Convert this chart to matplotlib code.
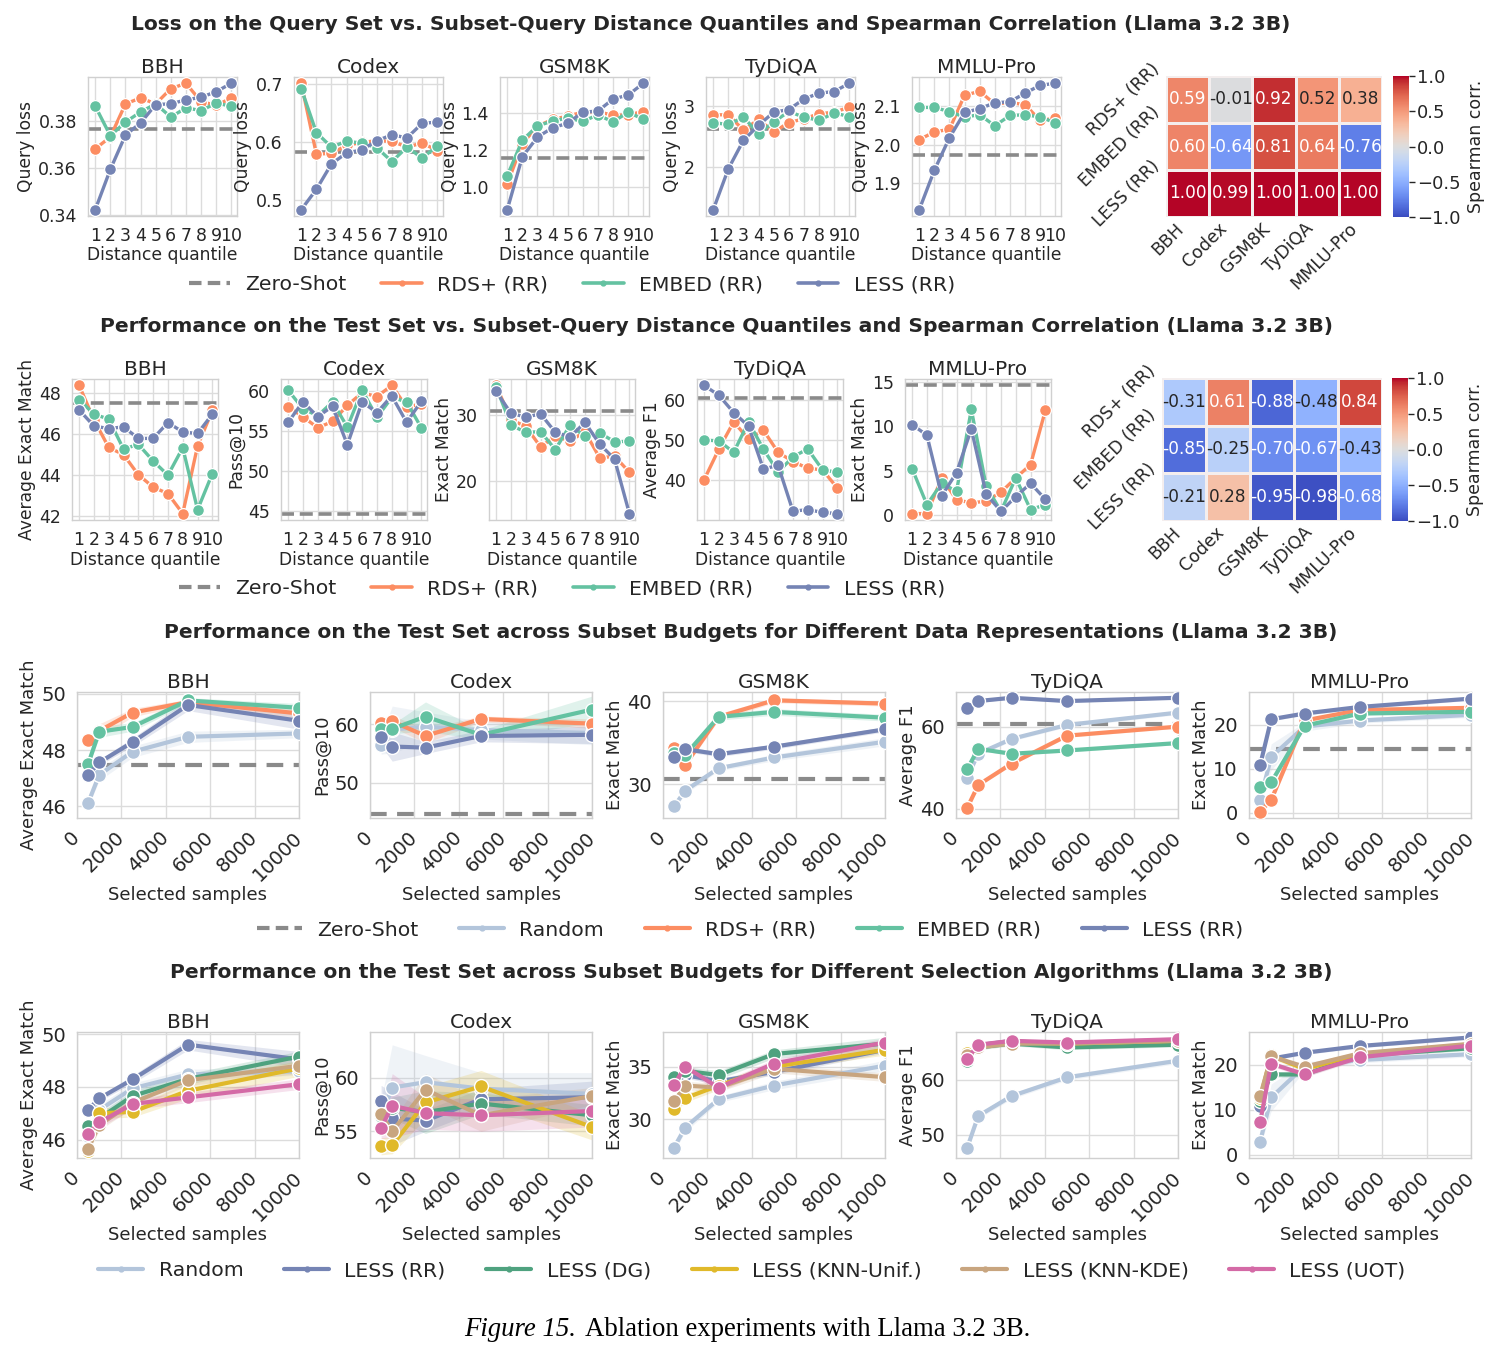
import matplotlib
matplotlib.use("Agg")
import matplotlib.pyplot as plt
import seaborn as sns
import numpy as np
from matplotlib.lines import Line2D

sns.set_theme(style="whitegrid")
plt.rcParams['font.family'] = ['DejaVu Sans']

# ---------------- data ----------------
TASKS = ['BBH', 'Codex', 'GSM8K', 'TyDiQA', 'MMLU-Pro']
QUANTILES = [1, 2, 3, 4, 5, 6, 7, 8, 9, 10]
SAMPLES = [500, 1000, 2500, 5000, 10000]
HEAT_ROWS = ['RDS+ (RR)', 'EMBED (RR)', 'LESS (RR)']

# Row 1: query loss vs distance quantile
loss_zero = [0.3766, 0.583, 1.156, 2.632, 1.974]
loss_rds = [
    [0.3682, 0.3733, 0.3875, 0.3900, 0.3875, 0.3940, 0.3963, 0.3885, 0.3868, 0.3900],
    [0.702, 0.580, 0.581, 0.595, 0.600, 0.603, 0.602, 0.592, 0.599, 0.586],
    [1.019, 1.235, 1.328, 1.365, 1.382, 1.404, 1.407, 1.386, 1.389, 1.407],
    [2.86, 2.86, 2.605, 2.784, 2.578, 2.73, 2.795, 2.876, 2.903, 2.984],
    [2.013, 2.033, 2.040, 2.129, 2.139, 2.106, 2.110, 2.104, 2.063, 2.069]]
loss_embed = [
    [0.3865, 0.3738, 0.3797, 0.3840, 0.3875, 0.3818, 0.3858, 0.3846, 0.3878, 0.3865],
    [0.693, 0.617, 0.592, 0.602, 0.599, 0.591, 0.567, 0.592, 0.573, 0.594],
    [1.063, 1.253, 1.330, 1.356, 1.372, 1.354, 1.389, 1.351, 1.404, 1.365],
    [2.73, 2.70, 2.82, 2.55, 2.74, 2.914, 2.82, 2.768, 2.89, 2.83],
    [2.097, 2.097, 2.086, 2.072, 2.078, 2.049, 2.076, 2.078, 2.072, 2.057]]
loss_less = [
    [0.3421, 0.3594, 0.3741, 0.3793, 0.3872, 0.3875, 0.3892, 0.3903, 0.3927, 0.3963],
    [0.484, 0.519, 0.563, 0.582, 0.587, 0.603, 0.613, 0.608, 0.633, 0.635],
    [0.881, 1.165, 1.270, 1.320, 1.344, 1.404, 1.409, 1.474, 1.495, 1.558],
    [1.297, 1.97, 2.44, 2.686, 2.903, 2.946, 3.119, 3.216, 3.243, 3.378],
    [1.830, 1.933, 2.018, 2.084, 2.094, 2.109, 2.112, 2.134, 2.155, 2.160]]
loss_yticks = [[0.34, 0.36, 0.38], [0.5, 0.6, 0.7], [1.0, 1.2, 1.4], [2, 3], [1.9, 2.0, 2.1]]
loss_yticklabels = [['0.34', '0.36', '0.38'], ['0.5', '0.6', '0.7'], ['1.0', '1.2', '1.4'],
                    ['2', '3'], ['1.9', '2.0', '2.1']]
loss_corr = [[0.59, -0.01, 0.92, 0.52, 0.38],
             [0.60, -0.64, 0.81, 0.64, -0.76],
             [1.00, 0.99, 1.00, 1.00, 1.00]]

# Row 2: test performance vs distance quantile
perf_zero = [47.5, 44.7, 30.6, 60.5, 14.6]
perf_rds = [
    [48.37, 46.70, 45.35, 45.00, 44.02, 43.42, 43.10, 42.13, 45.42, 47.15],
    [58.0, 56.8, 55.4, 56.2, 58.2, 59.8, 59.3, 60.7, 58.0, 58.4],
    [34.5, 29.3, 28.3, 25.2, 26.8, 26.1, 27.5, 23.5, 23.8, 21.35],
    [40.0, 47.75, 54.6, 50.2, 52.5, 46.9, 44.6, 42.9, 42.5, 37.9],
    [0.2, 0.2, 4.2, 1.75, 1.4, 1.6, 2.6, 4.2, 5.7, 11.8]]
perf_embed = [
    [47.68, 46.97, 46.73, 45.27, 45.50, 44.69, 44.00, 45.34, 42.32, 44.08],
    [60.1, 57.8, 56.9, 58.65, 55.5, 60.1, 56.7, 59.2, 58.65, 55.4],
    [34.3, 28.5, 27.4, 27.5, 24.8, 28.5, 26.8, 27.3, 25.96, 26.06],
    [50.0, 49.8, 46.9, 54.6, 47.75, 41.9, 45.8, 47.75, 42.5, 41.9],
    [5.25, 1.2, 3.6, 2.7, 11.9, 3.3, 0.45, 4.2, 0.65, 1.2]]
perf_less = [
    [47.18, 46.39, 46.27, 46.35, 45.79, 45.79, 46.56, 46.10, 46.03, 46.97],
    [56.1, 58.65, 56.8, 58.1, 53.3, 58.65, 57.3, 59.4, 56.1, 58.7],
    [33.6, 30.3, 29.7, 30.2, 27.4, 26.7, 28.9, 25.6, 23.35, 15.1],
    [63.75, 61.25, 56.9, 53.5, 42.75, 43.6, 32.1, 32.5, 31.8, 31.5],
    [10.2, 9.0, 2.2, 4.8, 9.7, 2.4, 0.45, 2.1, 3.6, 1.8]]
perf_ylabels = ['Average Exact Match', 'Pass@10', 'Exact Match', 'Average F1', 'Exact Match']
perf_yticks = [[42, 44, 46, 48], [45, 50, 55, 60], [20, 30], [40, 50, 60], [0, 5, 10, 15]]
perf_corr = [[-0.31, 0.61, -0.88, -0.48, 0.84],
             [-0.85, -0.25, -0.70, -0.67, -0.43],
             [-0.21, 0.28, -0.95, -0.98, -0.68]]

# Row 3: budgets, data representations
bud_zero = [47.47, 44.7, 30.6, 60.56, 14.5]
bud_random = [
    [46.12, 47.12, 47.94, 48.47, 48.59],
    [56.4, 59.1, 59.6, 59.0, 58.5],
    [27.3, 29.2, 31.9, 33.2, 35.1],
    [47.6, 53.4, 57.0, 60.4, 63.4],
    [2.9, 12.7, 19.6, 21.0, 22.3]]
bud_rds = [
    [48.35, 48.68, 49.33, 49.70, 49.30],
    [60.2, 60.5, 58.0, 60.9, 60.1],
    [34.3, 32.3, 38.1, 40.1, 39.7],
    [40.2, 45.8, 51.0, 57.8, 60.0],
    [0.2, 2.9, 21.0, 23.4, 23.9]]
bud_embed = [
    [47.50, 48.65, 48.82, 49.76, 49.50],
    [59.2, 59.2, 61.3, 58.2, 62.5],
    [33.7, 33.5, 38.1, 38.7, 38.0],
    [49.6, 54.6, 53.4, 54.2, 56.0],
    [5.9, 6.9, 19.8, 22.6, 23.0]]
bud_less = [
    [47.12, 47.56, 48.28, 49.60, 49.04],
    [57.8, 56.2, 56.0, 58.0, 58.2],
    [33.3, 34.2, 33.6, 34.5, 36.6],
    [64.4, 66.2, 67.0, 66.2, 67.0],
    [10.8, 21.3, 22.6, 24.1, 26.0]]
# half-widths of the shaded intervals
bud_random_band = [[0.12, 0.2, 0.2, 0.2, 0.15], [1.5, 4.0, 2.5, 1.5, 2.0], [0.4, 0.4, 0.3, 0.4, 0.5],
                   [0.5, 0.5, 0.5, 0.5, 0.5], [1.0, 3.0, 1.0, 0.6, 0.6]]
bud_rds_band = [[0.1, 0.25, 0.15, 0.1, 0.2], [1.0, 1.0, 1.2, 0.5, 0.8], [0.3, 0.3, 0.4, 0.3, 0.3],
                [0.4, 0.4, 0.4, 0.4, 0.4], [0.3, 0.5, 0.5, 0.4, 0.4]]
bud_embed_band = [[0.1, 0.2, 0.15, 0.1, 0.15], [0.8, 0.8, 2.5, 0.8, 2.3], [0.3, 0.3, 0.4, 0.4, 0.4],
                  [0.4, 0.4, 0.4, 0.4, 0.4], [0.5, 0.5, 0.5, 0.4, 0.4]]
bud_less_band = [[0.1, 0.1, 0.15, 0.2, 0.3], [1.5, 2.5, 1.0, 1.0, 1.5], [0.3, 0.3, 0.3, 0.3, 0.3],
                 [0.3, 0.3, 0.3, 0.3, 0.3], [0.4, 0.4, 0.4, 0.4, 0.4]]

# Row 4: budgets, selection algorithms (Random and LESS (RR) shared with row 3)
alg_dg = [
    [46.5, 46.8, 47.65, 48.3, 49.15],
    [56.4, 57.2, 56.8, 57.6, 56.5],
    [34.0, 34.6, 34.2, 36.2, 37.2],
    [63.3, 65.8, 66.5, 65.8, 66.3],
    [12.0, 17.8, 17.8, 22.0, 23.6]]
alg_unif = [
    [45.55, 47.0, 47.05, 47.85, 48.7],
    [53.6, 53.7, 57.7, 59.2, 55.4],
    [31.0, 32.0, 33.2, 35.0, 36.6],
    [64.8, 66.0, 66.8, 66.5, 67.0],
    [12.5, 22.0, 19.0, 22.3, 24.4]]
alg_kde = [
    [45.65, 46.55, 47.4, 48.25, 48.8],
    [56.6, 55.0, 58.9, 56.5, 58.3],
    [31.7, 33.2, 33.0, 34.8, 34.0],
    [64.5, 65.8, 66.5, 66.5, 67.0],
    [13.0, 21.8, 19.5, 22.5, 24.6]]
alg_uot = [
    [46.2, 46.65, 47.35, 47.6, 48.1],
    [55.3, 57.4, 56.7, 56.5, 56.9],
    [33.3, 35.0, 33.0, 35.3, 37.3],
    [63.7, 66.3, 67.0, 66.7, 67.3],
    [7.2, 20.2, 17.8, 21.6, 24.2]]
alg_dg_band = [[0.15, 0.2, 0.2, 0.2, 0.2], [1.0, 1.0, 2.0, 1.0, 1.0], [0.4, 0.4, 0.4, 0.4, 0.6],
               [0.4, 0.4, 0.4, 0.4, 0.4], [0.6, 0.6, 0.6, 0.5, 0.5]]
alg_unif_band = [[0.15, 0.2, 0.2, 0.3, 0.3], [0.8, 0.8, 1.5, 1.5, 1.2], [0.4, 0.4, 0.4, 0.4, 0.5],
                 [0.4, 0.4, 0.4, 0.4, 0.4], [0.6, 0.6, 0.6, 0.5, 0.5]]
alg_kde_band = [[0.15, 0.2, 0.2, 0.2, 0.3], [1.0, 1.0, 1.5, 1.5, 0.8], [0.4, 0.4, 0.4, 0.4, 0.4],
                [0.4, 0.4, 0.4, 0.4, 0.4], [0.6, 0.6, 0.6, 0.5, 0.5]]
alg_uot_band = [[0.15, 0.2, 0.2, 0.2, 0.2], [1.0, 3.0, 1.5, 1.5, 1.5], [0.4, 0.4, 0.4, 0.4, 0.4],
                [0.4, 0.4, 0.4, 0.4, 0.4], [0.6, 0.6, 0.6, 0.5, 0.5]]

bud_ylims = [(45.59, 50.06), (44.0, 65.5), (25.9, 41.1), (37.8, 68.4), (-1.2, 27.5)]
bud_yticks = [[46, 48, 50], [50, 60], [30, 40], [40, 60], [0, 10, 20]]
alg_ylims = [(45.3, 50.08), (52.5, 64.3), (26.3, 38.3), (45.8, 68.6), (-0.7, 27.2)]
alg_yticks = [[46, 48, 50], [55, 60], [30, 35], [50, 60], [0, 10, 20]]
sample_ticks = [0, 2000, 4000, 6000, 8000, 10000]

# ---------------- style ----------------
COL = {
    'Zero-Shot': '#8a8a8a',
    'Random': '#b3c5db',
    'RDS+ (RR)': '#fc8d62',
    'EMBED (RR)': '#64c2a1',
    'LESS (RR)': '#7584b4',
    'LESS (DG)': '#4fa27f',
    'LESS (KNN-Unif.)': '#e0b92a',
    'LESS (KNN-KDE)': '#c8a57f',
    'LESS (UOT)': '#d46aa6',
}
TXT = '#262626'

W, H = 1500, 1361
fig = plt.figure(figsize=(W / 100, H / 100), dpi=100)


def add_ax(l, t, r, b):
    return fig.add_axes([l / W, 1 - b / H, (r - l) / W, (b - t) / H])


def style_ax(ax, title, ylabel, xlabel, fs_tick, fs_lab):
    ax.set_title(title, fontsize=14.5, pad=3, color=TXT)
    ax.set_ylabel(ylabel, fontsize=fs_lab, labelpad=2, color=TXT)
    ax.set_xlabel(xlabel, fontsize=fs_lab, labelpad=1, color=TXT)
    ax.tick_params(labelsize=fs_tick, pad=2, colors=TXT)
    for s in ax.spines.values():
        s.set_color('#d0d0d0')
        s.set_linewidth(1.0)
    ax.grid(color='#dcdcdc', lw=1.0)


def quantile_panel(ax, i, zero, series, ylabel, yticks, yticklabels=None):
    ax.axhline(zero, color=COL['Zero-Shot'], lw=2.6, ls=(0, (3.6, 1.6)), zorder=1)
    for name, vals in series:
        ax.plot(QUANTILES, vals[i], color=COL[name], lw=2.4, marker='o', ms=8.5,
                mec='white', mew=0.9, zorder=3)
    ax.set_xticks(QUANTILES)
    ax.set_xticklabels([str(q) for q in QUANTILES])
    ax.set_xlim(0.52, 10.38)
    ax.set_yticks(yticks)
    if yticklabels is not None:
        ax.set_yticklabels(yticklabels)
    style_ax(ax, TASKS[i], ylabel, 'Distance quantile', 12.5, 12.3)


def heat_panel(ax, cax, data):
    sns.heatmap(np.array(data), ax=ax, cbar_ax=cax, annot=True, fmt='.2f', cmap='coolwarm',
                vmin=-1, vmax=1, linewidths=1, linecolor='#f4eeee',
                annot_kws={'fontsize': 12.2},
                cbar_kws={'label': 'Spearman corr.', 'ticks': [-1, -0.5, 0, 0.5, 1]})
    ax.set_xticklabels(TASKS, rotation=45, ha='right', fontsize=12.5, color=TXT)
    ax.set_yticklabels(HEAT_ROWS, rotation=45, va='center', fontsize=12.5, color=TXT)
    ax.tick_params(length=0, pad=2)
    cax.tick_params(labelsize=13, length=4, width=1, colors=TXT, pad=2)
    cax.set_yticklabels(['\u22121.0', '\u22120.5', '0.0', '0.5', '1.0'])
    cax.yaxis.label.set_size(12.5)
    cax.yaxis.label.set_color(TXT)


def budget_panel(ax, i, zero, series, ylabel, ylim, yticks):
    if zero is not None:
        ax.axhline(zero, color=COL['Zero-Shot'], lw=3.0, ls=(0, (4.0, 2.5)), zorder=1)
    for name, vals, band in series:
        v = np.array(vals[i])
        if band is not None:
            b = np.array(band[i])
            ax.fill_between(SAMPLES, v - b, v + b, color=COL[name], alpha=0.2, lw=0, zorder=2)
        ax.plot(SAMPLES, v, color=COL[name], lw=3.0, marker='o', ms=10,
                mec='white', mew=1.0, zorder=3)
    ax.set_xlim(0, 10000)
    ax.set_xticks(sample_ticks)
    ax.set_xticklabels([str(s) for s in sample_ticks], rotation=45, ha='right', va='center',
                       rotation_mode='anchor')
    ax.set_ylim(*ylim)
    ax.set_yticks(yticks)
    style_ax(ax, TASKS[i], ylabel, 'Selected samples', 14, 13)
    ax.tick_params(axis='x', pad=6)


# ---------------- row 1 ----------------
fig.text(711 / W, 1 - 24 / H, 'Loss on the Query Set vs. Subset-Query Distance Quantiles and Spearman Correlation (Llama 3.2 3B)',
         ha='center', va='center', fontsize=14.6, fontweight='bold', color=TXT)
r1_left = [88, 294, 500, 706, 912]
for i in range(5):
    ax = add_ax(r1_left[i], 77, r1_left[i] + 149, 216)
    quantile_panel(ax, i, loss_zero[i],
                   [('RDS+ (RR)', loss_rds), ('EMBED (RR)', loss_embed), ('LESS (RR)', loss_less)],
                   'Query loss', loss_yticks[i], loss_yticklabels[i])
hax = add_ax(1166, 76, 1382, 217)
cax = add_ax(1393, 76, 1409, 217)
heat_panel(hax, cax, loss_corr)

# ---------------- row 2 ----------------
fig.text(716 / W, 1 - 326 / H, 'Performance on the Test Set vs. Subset-Query Distance Quantiles and Spearman Correlation (Llama 3.2 3B)',
         ha='center', va='center', fontsize=14.6, fontweight='bold', color=TXT)
r2_left = [72, 281, 489, 697, 905]
for i in range(5):
    ax = add_ax(r2_left[i], 379, r2_left[i] + 146, 520)
    quantile_panel(ax, i, perf_zero[i],
                   [('RDS+ (RR)', perf_rds), ('EMBED (RR)', perf_embed), ('LESS (RR)', perf_less)],
                   perf_ylabels[i], perf_yticks[i])
hax = add_ax(1162, 378, 1382, 521)
cax = add_ax(1392, 378, 1408, 521)
heat_panel(hax, cax, perf_corr)


def legend(names, y, x, lw=2.6, hl=2.2, cs=2.0):
    handles = []
    for n in names:
        if n == 'Zero-Shot':
            handles.append(Line2D([0], [0], color=COL[n], lw=3, ls=(0, (3.0, 1.5))))
        else:
            handles.append(Line2D([0], [0], color=COL[n], lw=lw, marker='o', ms=3.5,
                                  mec=COL[n]))
    leg = fig.legend(handles, names, loc='center', bbox_to_anchor=(x / W, 1 - y / H),
                     ncol=len(names), frameon=False, fontsize=14.7, handlelength=hl,
                     handletextpad=0.75, columnspacing=cs)
    for t in leg.get_texts():
        t.set_color(TXT)


legend(['Zero-Shot', 'RDS+ (RR)', 'EMBED (RR)', 'LESS (RR)'], 285, 572, hl=2.0, cs=1.7)
legend(['Zero-Shot', 'RDS+ (RR)', 'EMBED (RR)', 'LESS (RR)'], 589, 562, hl=2.0, cs=1.7)

# ---------------- row 3 ----------------
fig.text(751 / W, 1 - 632 / H, 'Performance on the Test Set across Subset Budgets for Different Data Representations (Llama 3.2 3B)',
         ha='center', va='center', fontsize=14.6, fontweight='bold', color=TXT)
rb_left = [77, 370, 663, 956, 1249]
for i in range(5):
    ax = add_ax(rb_left[i], 692, rb_left[i] + 222, 818)
    budget_panel(ax, i, bud_zero[i],
                 [('Random', bud_random, bud_random_band), ('RDS+ (RR)', bud_rds, bud_rds_band),
                  ('EMBED (RR)', bud_embed, bud_embed_band), ('LESS (RR)', bud_less, bud_less_band)],
                 perf_ylabels[i], bud_ylims[i], bud_yticks[i])
legend(['Zero-Shot', 'Random', 'RDS+ (RR)', 'EMBED (RR)', 'LESS (RR)'], 930, 750, lw=3)

# ---------------- row 4 ----------------
fig.text(751 / W, 1 - 972 / H, 'Performance on the Test Set across Subset Budgets for Different Selection Algorithms (Llama 3.2 3B)',
         ha='center', va='center', fontsize=14.6, fontweight='bold', color=TXT)
for i in range(5):
    ax = add_ax(rb_left[i], 1032, rb_left[i] + 222, 1158)
    budget_panel(ax, i, None,
                 [('Random', bud_random, bud_random_band), ('LESS (RR)', bud_less, bud_less_band),
                  ('LESS (DG)', alg_dg, alg_dg_band), ('LESS (KNN-Unif.)', alg_unif, alg_unif_band),
                  ('LESS (KNN-KDE)', alg_kde, alg_kde_band), ('LESS (UOT)', alg_uot, alg_uot_band)],
                 perf_ylabels[i], alg_ylims[i], alg_yticks[i])
legend(['Random', 'LESS (RR)', 'LESS (DG)', 'LESS (KNN-Unif.)', 'LESS (KNN-KDE)', 'LESS (UOT)'],
       1271, 752, lw=3)

# ---------------- caption ----------------
fig.text(576 / W, 1 - 1330 / H, 'Figure 15.', ha='right', va='center', fontsize=19.3,
         family=['Liberation Serif', 'DejaVu Serif'], style='italic', color='black')
fig.text(585 / W, 1 - 1330 / H, 'Ablation experiments with Llama 3.2 3B.', ha='left', va='center',
         fontsize=19.3, family=['Liberation Serif', 'DejaVu Serif'], color='black')

fig.savefig('out.png', dpi=100, facecolor='white')
